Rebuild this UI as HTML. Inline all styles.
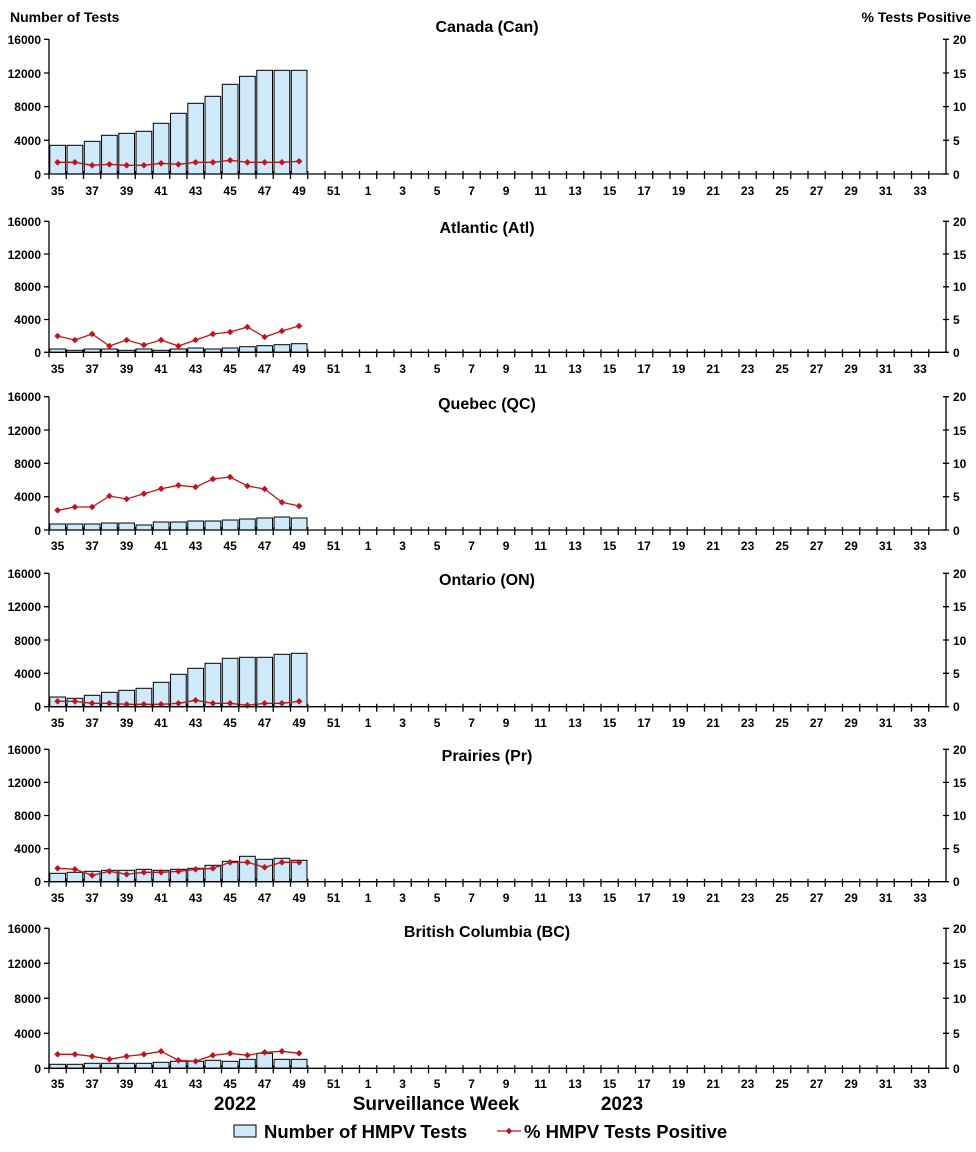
<!DOCTYPE html>
<html><head><meta charset="utf-8"><style>
html,body{margin:0;padding:0;background:#fff}
svg{display:block}
text{font-family:"Liberation Sans",Arial,sans-serif;font-weight:bold;fill:#000}
.t{font-size:14px}
.l{font-size:12px;text-anchor:end}
.r{font-size:12px}
.x{font-size:12px;text-anchor:middle}
.h{font-size:16px;text-anchor:middle}
.b rect{fill:#cde9fa;stroke:#000;stroke-width:1}
.p{fill:none;stroke:#c0141c;stroke-width:1.3;marker-start:url(#d);marker-mid:url(#d);marker-end:url(#d)}
.ax{stroke:#000;stroke-width:1.3;fill:none}
</style></head><body>
<svg width="976" height="1152" viewBox="0 0 976 1152" xmlns="http://www.w3.org/2000/svg">
<defs>
<marker id="d" viewBox="-4 -4 8 8" markerWidth="8" markerHeight="8" markerUnits="userSpaceOnUse"><path d="M0,-3.3L3.3,0 0,3.3 -3.3,0z" fill="#c0141c"/></marker>
<path id="xt" class="ax" d="M49,-3v8m17.25,-8v8m17.25,-8v8m17.25,-8v8m17.25,-8v8m17.25,-8v8m17.25,-8v8m17.25,-8v8m17.25,-8v8m17.25,-8v8m17.25,-8v8m17.25,-8v8m17.25,-8v8m17.25,-8v8m17.25,-8v8m17.25,-8v8m17.25,-8v8m17.25,-8v8m17.25,-8v8m17.25,-8v8m17.25,-8v8m17.25,-8v8m17.25,-8v8m17.25,-8v8m17.25,-8v8m17.25,-8v8m17.25,-8v8m17.25,-8v8m17.25,-8v8m17.25,-8v8m17.25,-8v8m17.25,-8v8m17.25,-8v8m17.25,-8v8m17.25,-8v8m17.25,-8v8m17.25,-8v8m17.25,-8v8m17.25,-8v8m17.25,-8v8m17.25,-8v8m17.25,-8v8m17.25,-8v8m17.25,-8v8m17.25,-8v8m17.25,-8v8m17.25,-8v8m17.25,-8v8m17.25,-8v8m17.25,-8v8m17.25,-8v8m17.25,-8v8M49,0H946"/>
</defs>

<text class="t" x="10" y="22">Number of Tests</text>
<text class="t" x="971" y="22" text-anchor="end">%  Tests Positive</text>

<g>
<text class="h" x="487" y="32">Canada (Can)</text>
<path class="ax" d="M49,39.3V174M44,39.3h5M44,73h5M44,106.6h5M44,140.3h5M44,174h5M946,39.3V174M943,39.3h6M943,73h6M943,106.6h6M943,140.3h6M943,174h6"/>
<g class="l"><text x="41" y="44">16000</text><text x="41" y="78">12000</text><text x="41" y="111">8000</text><text x="41" y="145">4000</text><text x="41" y="179">0</text></g>
<g class="r"><text x="953" y="44">20</text><text x="953" y="78">15</text><text x="953" y="111">10</text><text x="953" y="145">5</text><text x="953" y="179">0</text></g>
<g class="b"><rect x="49.8" y="145.3" width="15.7" height="28.7"/><rect x="67.05" y="145.3" width="15.7" height="28.7"/><rect x="84.3" y="141.3" width="15.7" height="32.7"/><rect x="101.55" y="135.3" width="15.7" height="38.7"/><rect x="118.8" y="133.3" width="15.7" height="40.7"/><rect x="136.05" y="131.3" width="15.7" height="42.7"/><rect x="153.3" y="123.3" width="15.7" height="50.7"/><rect x="170.55" y="113.3" width="15.7" height="60.7"/><rect x="187.8" y="103.3" width="15.7" height="70.7"/><rect x="205.05" y="96.3" width="15.7" height="77.7"/><rect x="222.3" y="84.3" width="15.7" height="89.7"/><rect x="239.55" y="76.3" width="15.7" height="97.7"/><rect x="256.8" y="70.3" width="15.7" height="103.7"/><rect x="274.05" y="70.3" width="15.7" height="103.7"/><rect x="291.3" y="70.3" width="15.7" height="103.7"/></g>
<polyline class="p" points="57.6,162.3 74.9,162.3 92.1,165.3 109.4,164.3 126.6,165.3 143.9,165.3 161.1,163.3 178.4,164.3 195.6,162.3 212.9,162.3 230.1,160.3 247.4,162.3 264.6,162.3 281.9,162.3 299.1,161.3"/>
<use href="#xt" y="174"/>
<text class="x" y="195"><tspan x="57.6">35</tspan><tspan x="92.1">37</tspan><tspan x="126.6">39</tspan><tspan x="161.1">41</tspan><tspan x="195.6">43</tspan><tspan x="230.1">45</tspan><tspan x="264.6">47</tspan><tspan x="299.1">49</tspan><tspan x="333.6">51</tspan><tspan x="368.1">1</tspan><tspan x="402.6">3</tspan><tspan x="437.1">5</tspan><tspan x="471.6">7</tspan><tspan x="506.1">9</tspan><tspan x="540.6">11</tspan><tspan x="575.1">13</tspan><tspan x="609.6">15</tspan><tspan x="644.1">17</tspan><tspan x="678.6">19</tspan><tspan x="713.1">21</tspan><tspan x="747.6">23</tspan><tspan x="782.1">25</tspan><tspan x="816.6">27</tspan><tspan x="851.1">29</tspan><tspan x="885.6">31</tspan><tspan x="920.1">33</tspan></text>
</g>

<g>
<text class="h" x="487" y="233">Atlantic (Atl)</text>
<path class="ax" d="M49,221.3V352.3M44,221.3h5M44,254h5M44,286.8h5M44,319.5h5M44,352.3h5M946,221.3V352.3M943,221.3h6M943,254h6M943,286.8h6M943,319.5h6M943,352.3h6"/>
<g class="l"><text x="41" y="226">16000</text><text x="41" y="259">12000</text><text x="41" y="291">8000</text><text x="41" y="324">4000</text><text x="41" y="357">0</text></g>
<g class="r"><text x="953" y="226">20</text><text x="953" y="259">15</text><text x="953" y="291">10</text><text x="953" y="324">5</text><text x="953" y="357">0</text></g>
<g class="b"><rect x="49.8" y="349" width="15.7" height="3.3"/><rect x="67.05" y="350.3" width="15.7" height="2"/><rect x="84.3" y="349" width="15.7" height="3.3"/><rect x="101.55" y="349" width="15.7" height="3.3"/><rect x="118.8" y="350.3" width="15.7" height="2"/><rect x="136.05" y="349" width="15.7" height="3.3"/><rect x="153.3" y="350.3" width="15.7" height="2"/><rect x="170.55" y="349" width="15.7" height="3.3"/><rect x="187.8" y="348" width="15.7" height="4.3"/><rect x="205.05" y="349" width="15.7" height="3.3"/><rect x="222.3" y="348" width="15.7" height="4.3"/><rect x="239.55" y="346.7" width="15.7" height="5.6"/><rect x="256.8" y="345.7" width="15.7" height="6.6"/><rect x="274.05" y="344.7" width="15.7" height="7.6"/><rect x="291.3" y="343.7" width="15.7" height="8.6"/></g>
<polyline class="p" points="57.6,336 74.9,340 92.1,334 109.4,346 126.6,340 143.9,345 161.1,340 178.4,346 195.6,340 212.9,334 230.1,332 247.4,327 264.6,337 281.9,331 299.1,326"/>
<use href="#xt" y="352.3"/>
<text class="x" y="373"><tspan x="57.6">35</tspan><tspan x="92.1">37</tspan><tspan x="126.6">39</tspan><tspan x="161.1">41</tspan><tspan x="195.6">43</tspan><tspan x="230.1">45</tspan><tspan x="264.6">47</tspan><tspan x="299.1">49</tspan><tspan x="333.6">51</tspan><tspan x="368.1">1</tspan><tspan x="402.6">3</tspan><tspan x="437.1">5</tspan><tspan x="471.6">7</tspan><tspan x="506.1">9</tspan><tspan x="540.6">11</tspan><tspan x="575.1">13</tspan><tspan x="609.6">15</tspan><tspan x="644.1">17</tspan><tspan x="678.6">19</tspan><tspan x="713.1">21</tspan><tspan x="747.6">23</tspan><tspan x="782.1">25</tspan><tspan x="816.6">27</tspan><tspan x="851.1">29</tspan><tspan x="885.6">31</tspan><tspan x="920.1">33</tspan></text>
</g>

<g>
<text class="h" x="487" y="409">Quebec (QC)</text>
<path class="ax" d="M49,396.7V530M44,396.7h5M44,430h5M44,463.3h5M44,496.7h5M44,530h5M946,396.7V530M943,396.7h6M943,430h6M943,463.3h6M943,496.7h6M943,530h6"/>
<g class="l"><text x="41" y="401">16000</text><text x="41" y="435">12000</text><text x="41" y="468">8000</text><text x="41" y="501">4000</text><text x="41" y="535">0</text></g>
<g class="r"><text x="953" y="401">20</text><text x="953" y="435">15</text><text x="953" y="468">10</text><text x="953" y="501">5</text><text x="953" y="535">0</text></g>
<g class="b"><rect x="49.8" y="524" width="15.7" height="6"/><rect x="67.05" y="524" width="15.7" height="6"/><rect x="84.3" y="524" width="15.7" height="6"/><rect x="101.55" y="523" width="15.7" height="7"/><rect x="118.8" y="523" width="15.7" height="7"/><rect x="136.05" y="525" width="15.7" height="5"/><rect x="153.3" y="522" width="15.7" height="8"/><rect x="170.55" y="522" width="15.7" height="8"/><rect x="187.8" y="521" width="15.7" height="9"/><rect x="205.05" y="521" width="15.7" height="9"/><rect x="222.3" y="520" width="15.7" height="10"/><rect x="239.55" y="519" width="15.7" height="11"/><rect x="256.8" y="518" width="15.7" height="12"/><rect x="274.05" y="517" width="15.7" height="13"/><rect x="291.3" y="518" width="15.7" height="12"/></g>
<polyline class="p" points="57.6,510.3 74.9,507 92.1,507 109.4,496 126.6,499 143.9,493.7 161.1,488.7 178.4,485.3 195.6,487 212.9,479 230.1,477 247.4,486 264.6,489 281.9,502.3 299.1,506"/>
<use href="#xt" y="530"/>
<text class="x" y="550"><tspan x="57.6">35</tspan><tspan x="92.1">37</tspan><tspan x="126.6">39</tspan><tspan x="161.1">41</tspan><tspan x="195.6">43</tspan><tspan x="230.1">45</tspan><tspan x="264.6">47</tspan><tspan x="299.1">49</tspan><tspan x="333.6">51</tspan><tspan x="368.1">1</tspan><tspan x="402.6">3</tspan><tspan x="437.1">5</tspan><tspan x="471.6">7</tspan><tspan x="506.1">9</tspan><tspan x="540.6">11</tspan><tspan x="575.1">13</tspan><tspan x="609.6">15</tspan><tspan x="644.1">17</tspan><tspan x="678.6">19</tspan><tspan x="713.1">21</tspan><tspan x="747.6">23</tspan><tspan x="782.1">25</tspan><tspan x="816.6">27</tspan><tspan x="851.1">29</tspan><tspan x="885.6">31</tspan><tspan x="920.1">33</tspan></text>
</g>

<g>
<text class="h" x="487" y="585">Ontario (ON)</text>
<path class="ax" d="M49,573.3V706.7M44,573.3h5M44,606.7h5M44,640h5M44,673.3h5M44,706.7h5M946,573.3V706.7M943,573.3h6M943,606.7h6M943,640h6M943,673.3h6M943,706.7h6"/>
<g class="l"><text x="41" y="578">16000</text><text x="41" y="611">12000</text><text x="41" y="645">8000</text><text x="41" y="678">4000</text><text x="41" y="711">0</text></g>
<g class="r"><text x="953" y="578">20</text><text x="953" y="611">15</text><text x="953" y="645">10</text><text x="953" y="678">5</text><text x="953" y="711">0</text></g>
<g class="b"><rect x="49.8" y="697" width="15.7" height="9.7"/><rect x="67.05" y="698.3" width="15.7" height="8.4"/><rect x="84.3" y="695.3" width="15.7" height="11.4"/><rect x="101.55" y="692.3" width="15.7" height="14.4"/><rect x="118.8" y="690.3" width="15.7" height="16.4"/><rect x="136.05" y="688.3" width="15.7" height="18.4"/><rect x="153.3" y="682.3" width="15.7" height="24.4"/><rect x="170.55" y="674.3" width="15.7" height="32.4"/><rect x="187.8" y="668.3" width="15.7" height="38.4"/><rect x="205.05" y="663.3" width="15.7" height="43.4"/><rect x="222.3" y="658.3" width="15.7" height="48.4"/><rect x="239.55" y="657.3" width="15.7" height="49.4"/><rect x="256.8" y="657.3" width="15.7" height="49.4"/><rect x="274.05" y="654.3" width="15.7" height="52.4"/><rect x="291.3" y="653.3" width="15.7" height="53.4"/></g>
<polyline class="p" points="57.6,701.3 74.9,701.3 92.1,703.3 109.4,703.3 126.6,704.3 143.9,704.3 161.1,704.3 178.4,703.3 195.6,700.3 212.9,703.3 230.1,703.3 247.4,705.3 264.6,703.3 281.9,703.3 299.1,701.3"/>
<use href="#xt" y="706.7"/>
<text class="x" y="727"><tspan x="57.6">35</tspan><tspan x="92.1">37</tspan><tspan x="126.6">39</tspan><tspan x="161.1">41</tspan><tspan x="195.6">43</tspan><tspan x="230.1">45</tspan><tspan x="264.6">47</tspan><tspan x="299.1">49</tspan><tspan x="333.6">51</tspan><tspan x="368.1">1</tspan><tspan x="402.6">3</tspan><tspan x="437.1">5</tspan><tspan x="471.6">7</tspan><tspan x="506.1">9</tspan><tspan x="540.6">11</tspan><tspan x="575.1">13</tspan><tspan x="609.6">15</tspan><tspan x="644.1">17</tspan><tspan x="678.6">19</tspan><tspan x="713.1">21</tspan><tspan x="747.6">23</tspan><tspan x="782.1">25</tspan><tspan x="816.6">27</tspan><tspan x="851.1">29</tspan><tspan x="885.6">31</tspan><tspan x="920.1">33</tspan></text>
</g>

<g>
<text class="h" x="487" y="761">Prairies (Pr)</text>
<path class="ax" d="M49,749.3V881.7M44,749.3h5M44,782.4h5M44,815.5h5M44,848.6h5M44,881.7h5M946,749.3V881.7M943,749.3h6M943,782.4h6M943,815.5h6M943,848.6h6M943,881.7h6"/>
<g class="l"><text x="41" y="754">16000</text><text x="41" y="787">12000</text><text x="41" y="820">8000</text><text x="41" y="853">4000</text><text x="41" y="886">0</text></g>
<g class="r"><text x="953" y="754">20</text><text x="953" y="787">15</text><text x="953" y="820">10</text><text x="953" y="853">5</text><text x="953" y="886">0</text></g>
<g class="b"><rect x="49.8" y="873.3" width="15.7" height="8.4"/><rect x="67.05" y="872.3" width="15.7" height="9.4"/><rect x="84.3" y="871.3" width="15.7" height="10.4"/><rect x="101.55" y="870.3" width="15.7" height="11.4"/><rect x="118.8" y="870.3" width="15.7" height="11.4"/><rect x="136.05" y="869.3" width="15.7" height="12.4"/><rect x="153.3" y="870.3" width="15.7" height="11.4"/><rect x="170.55" y="869.3" width="15.7" height="12.4"/><rect x="187.8" y="868.3" width="15.7" height="13.4"/><rect x="205.05" y="865.3" width="15.7" height="16.4"/><rect x="222.3" y="861.3" width="15.7" height="20.4"/><rect x="239.55" y="856.3" width="15.7" height="25.4"/><rect x="256.8" y="859.3" width="15.7" height="22.4"/><rect x="274.05" y="858.3" width="15.7" height="23.4"/><rect x="291.3" y="860.3" width="15.7" height="21.4"/></g>
<polyline class="p" points="57.6,868.3 74.9,869.3 92.1,875.3 109.4,871.3 126.6,874.3 143.9,872.3 161.1,872.3 178.4,871.3 195.6,869.3 212.9,868.3 230.1,862.3 247.4,862.3 264.6,867.3 281.9,862.3 299.1,862.3"/>
<use href="#xt" y="881.7"/>
<text class="x" y="902"><tspan x="57.6">35</tspan><tspan x="92.1">37</tspan><tspan x="126.6">39</tspan><tspan x="161.1">41</tspan><tspan x="195.6">43</tspan><tspan x="230.1">45</tspan><tspan x="264.6">47</tspan><tspan x="299.1">49</tspan><tspan x="333.6">51</tspan><tspan x="368.1">1</tspan><tspan x="402.6">3</tspan><tspan x="437.1">5</tspan><tspan x="471.6">7</tspan><tspan x="506.1">9</tspan><tspan x="540.6">11</tspan><tspan x="575.1">13</tspan><tspan x="609.6">15</tspan><tspan x="644.1">17</tspan><tspan x="678.6">19</tspan><tspan x="713.1">21</tspan><tspan x="747.6">23</tspan><tspan x="782.1">25</tspan><tspan x="816.6">27</tspan><tspan x="851.1">29</tspan><tspan x="885.6">31</tspan><tspan x="920.1">33</tspan></text>
</g>

<g>
<text class="h" x="487" y="937">British Columbia (BC)</text>
<path class="ax" d="M49,928.3V1068.3M44,928.3h5M44,963.3h5M44,998.3h5M44,1033.3h5M44,1068.3h5M946,928.3V1068.3M943,928.3h6M943,963.3h6M943,998.3h6M943,1033.3h6M943,1068.3h6"/>
<g class="l"><text x="41" y="933">16000</text><text x="41" y="968">12000</text><text x="41" y="1003">8000</text><text x="41" y="1038">4000</text><text x="41" y="1073">0</text></g>
<g class="r"><text x="953" y="933">20</text><text x="953" y="968">15</text><text x="953" y="1003">10</text><text x="953" y="1038">5</text><text x="953" y="1073">0</text></g>
<g class="b"><rect x="49.8" y="1064.3" width="15.7" height="4"/><rect x="67.05" y="1064.3" width="15.7" height="4"/><rect x="84.3" y="1063.3" width="15.7" height="5"/><rect x="101.55" y="1063.3" width="15.7" height="5"/><rect x="118.8" y="1063.3" width="15.7" height="5"/><rect x="136.05" y="1063.3" width="15.7" height="5"/><rect x="153.3" y="1062.3" width="15.7" height="6"/><rect x="170.55" y="1061.3" width="15.7" height="7"/><rect x="187.8" y="1061.3" width="15.7" height="7"/><rect x="205.05" y="1060.3" width="15.7" height="8"/><rect x="222.3" y="1061.3" width="15.7" height="7"/><rect x="239.55" y="1059.3" width="15.7" height="9"/><rect x="256.8" y="1053.3" width="15.7" height="15"/><rect x="274.05" y="1059.3" width="15.7" height="9"/><rect x="291.3" y="1059.3" width="15.7" height="9"/></g>
<polyline class="p" points="57.6,1054.3 74.9,1054.3 92.1,1056.3 109.4,1059.3 126.6,1056.3 143.9,1054.3 161.1,1051.3 178.4,1060.3 195.6,1061.3 212.9,1055.3 230.1,1053.3 247.4,1055.3 264.6,1052.3 281.9,1051.3 299.1,1053.3"/>
<use href="#xt" y="1068.3"/>
<text class="x" y="1088"><tspan x="57.6">35</tspan><tspan x="92.1">37</tspan><tspan x="126.6">39</tspan><tspan x="161.1">41</tspan><tspan x="195.6">43</tspan><tspan x="230.1">45</tspan><tspan x="264.6">47</tspan><tspan x="299.1">49</tspan><tspan x="333.6">51</tspan><tspan x="368.1">1</tspan><tspan x="402.6">3</tspan><tspan x="437.1">5</tspan><tspan x="471.6">7</tspan><tspan x="506.1">9</tspan><tspan x="540.6">11</tspan><tspan x="575.1">13</tspan><tspan x="609.6">15</tspan><tspan x="644.1">17</tspan><tspan x="678.6">19</tspan><tspan x="713.1">21</tspan><tspan x="747.6">23</tspan><tspan x="782.1">25</tspan><tspan x="816.6">27</tspan><tspan x="851.1">29</tspan><tspan x="885.6">31</tspan><tspan x="920.1">33</tspan></text>
</g>

<text x="235" y="1110" style="font-size:19px" text-anchor="middle">2022</text>
<text x="436" y="1110" style="font-size:19px" text-anchor="middle">Surveillance Week</text>
<text x="622" y="1110" style="font-size:19px" text-anchor="middle">2023</text>

<rect x="234" y="1125" width="22" height="12" fill="#cde9fa" stroke="#000" stroke-width="1"/>
<text x="264" y="1138" style="font-size:18.5px">Number of HMPV Tests</text>
<line x1="497" y1="1131" x2="521" y2="1131" stroke="#c0141c" stroke-width="1.3"/>
<path d="M509,1127.7L512.3,1131 509,1134.3 505.7,1131z" fill="#c0141c"/>
<text x="524" y="1138" style="font-size:18.5px">% HMPV Tests Positive</text>
</svg>
</body></html>
